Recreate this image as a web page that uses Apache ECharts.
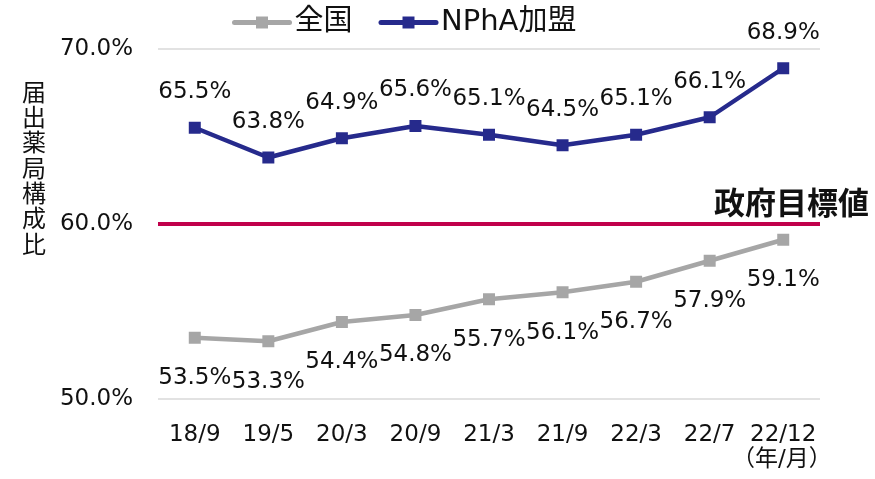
<!DOCTYPE html>
<html><head><meta charset="utf-8">
<script src="https://cdn.jsdelivr.net/npm/echarts@6/dist/echarts.min.js"></script>
<style>html,body{margin:0;padding:0;background:#fff}#c{width:875px;height:479px}</style>
</head><body><div id="c"></div>
<script>
const categories = ['18/9','19/5','20/3','20/9','21/3','21/9','22/3','22/7','22/12'];
const zenkoku = [53.5,53.3,54.4,54.8,55.7,56.1,56.7,57.9,59.1];
const npha = [65.5,63.8,64.9,65.6,65.1,64.5,65.1,66.1,68.9];
const target = 60;
const yTicks = [50,60,70];

const FONT = 'DejaVu Sans, Noto Sans CJK JP, sans-serif';
const chart = echarts.init(document.getElementById('c'));
chart.setOption({
  animation:false,
  textStyle:{fontFamily:FONT},
  legend:{
    top:3,left:227,itemWidth:55,itemHeight:15,itemGap:26,
    lineStyle:{width:5,cap:'round'},
    textStyle:{fontSize:29,color:'#111',fontFamily:FONT},
    data:['全国','NPhA加盟']
  },
  grid:{left:158,right:55,top:49,bottom:80},
  xAxis:{
    type:'category',data:categories,boundaryGap:true,
    axisLine:{show:false},axisTick:{show:false},
    axisLabel:{interval:0,fontSize:23,color:'#111',margin:25,fontFamily:FONT}
  },
  yAxis:{
    type:'value',min:yTicks[0],max:yTicks[yTicks.length-1],interval:10,
    axisLine:{show:false},axisTick:{show:false},
    splitLine:{lineStyle:{color:'#d9d9d9',width:1.5}},
    axisLabel:{fontSize:23,color:'#111',margin:25,fontFamily:FONT,formatter:v=>v.toFixed(1)+'%'}
  },
  graphic:[
    {type:'text',left:22,top:82,style:{text:'届\n出\n薬\n局\n構\n成\n比',font:'24px '+FONT,fill:'#111',lineHeight:25.3}},
    {type:'text',left:732,top:449,style:{text:'（年/月）',font:'23px '+FONT,fill:'#111'}}
  ],
  series:[
    {name:'全国',type:'line',data:zenkoku,symbol:'rect',symbolSize:12,
     itemStyle:{color:'#a6a6a6'},lineStyle:{color:'#a6a6a6',width:4.5},
     label:{show:true,position:'bottom',distance:23,fontSize:23,color:'#111',fontFamily:FONT,formatter:p=>p.value.toFixed(1)+'%'},
     markLine:{silent:true,symbol:'none',
       lineStyle:{color:'#C0004B',width:4,type:'solid'},
       label:{show:true,position:'insideEndTop',formatter:'政府目標値',fontSize:31,fontWeight:'bold',color:'#111',fontFamily:FONT,offset:[54,2]},
       data:[{yAxis:target}]}
    },
    {name:'NPhA加盟',type:'line',data:npha,symbol:'rect',symbolSize:12,
     itemStyle:{color:'#262A8C'},lineStyle:{color:'#262A8C',width:4.5},
     label:{show:true,position:'top',distance:18,fontSize:23,color:'#111',fontFamily:FONT,formatter:p=>p.value.toFixed(1)+'%'}
    }
  ]
});
</script></body></html>
